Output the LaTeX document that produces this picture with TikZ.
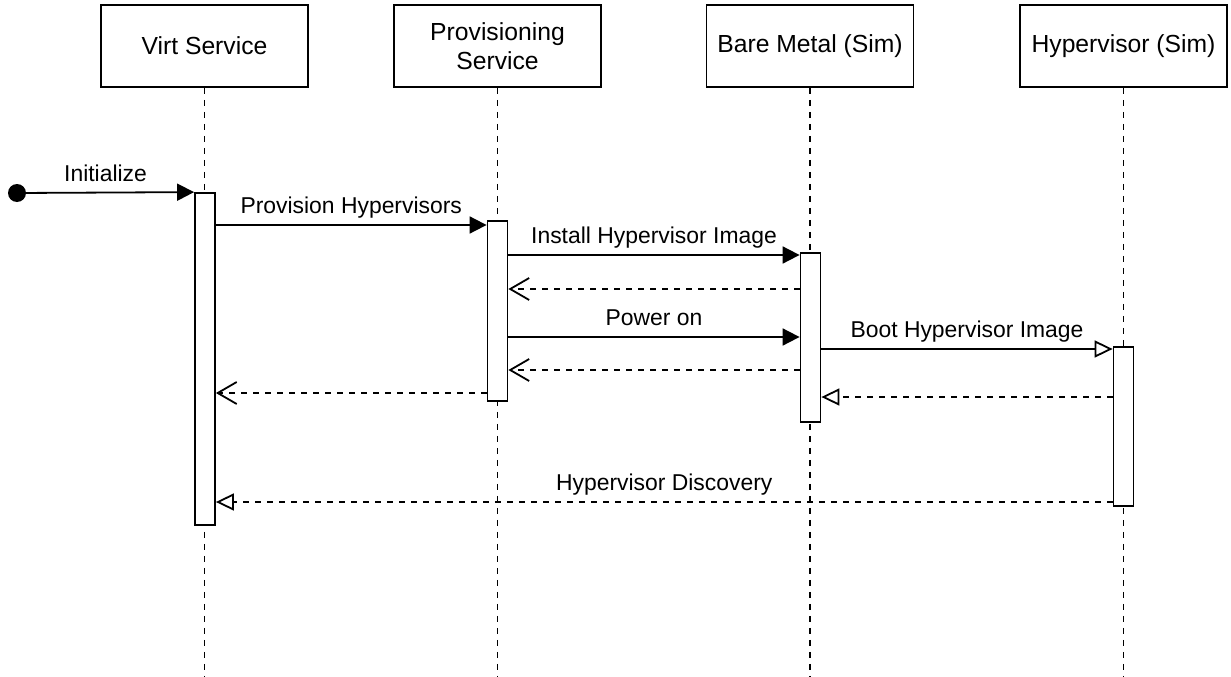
\documentclass[tikz,border=0pt]{standalone}
\usepackage{fontspec}
\setmainfont{Liberation Sans}
\usetikzlibrary{arrows.meta}

\begin{document}
\begin{tikzpicture}[x=1pt, y=-1pt, line width=1.8pt,
    font=\fontsize{22.9}{27}\selectfont,
    head/.style={draw, minimum width=207pt, minimum height=82pt, align=center, inner sep=0pt,
        font=\fontsize{24.7}{28.5}\selectfont},
    act/.style={draw, fill=white, minimum width=20pt, inner sep=0pt},
    life/.style={dash pattern=on 6pt off 6pt},
    call/.style={-{Triangle[length=17pt,width=17pt]}},
    reply/.style={life, -{Straight Barb[length=19pt,width=22pt]}},
    async/.style={-{Triangle[open,length=18pt,width=17pt]}},
    lbl/.style={anchor=base, yshift=11.5pt}]
    \useasboundingbox (0,0) rectangle (1231,677);

    \node[head] (virt) at (204.5,46) {Virt Service};
    \node[head] (prov) at (497.5,46) {Provisioning\\Service};
    \node[head] (bare) at (810,46) {Bare Metal (Sim)};
    \node[head] (hyper) at (1123.5,46) {Hypervisor (Sim)};

    \draw[life] (virt.south) -- (virt.south |- 0,677);
    \draw[life] (prov.south) -- (prov.south |- 0,677);
    \draw[life] (bare.south) -- (bare.south |- 0,677);
    \draw[life] (hyper.south) -- (hyper.south |- 0,677);

    \node[act, minimum height=332pt] (actV) at (205,359) {};
    \node[act, minimum height=180pt] (actP) at (497.5,311) {};
    \node[act, minimum height=169pt] (actB) at (810.5,337.5) {};
    \node[act, minimum height=159pt] (actH) at (1123.5,426.5) {};

    \coordinate (start) at (17,193);
    \fill (start) circle (9pt);
    \draw[call] (start) -- (actV.north west) node[lbl, midway] {Initialize};
    \draw[call] (actV.east |- 0,225) -- (actP.west |- 0,225) node[lbl, midway] {Provision Hypervisors};
    \draw[call] (actP.east |- 0,255) -- (actB.west |- 0,255) node[lbl, midway] {Install Hypervisor Image};
    \draw[reply] (actB.west |- 0,289) -- (actP.east |- 0,289);
    \draw[call] (actP.east |- 0,337) -- (actB.west |- 0,337) node[lbl, midway] {Power on};
    \draw[async] (actB.east |- 0,349) -- (actH.west |- 0,349) node[lbl, midway] {Boot Hypervisor Image};
    \draw[reply] (actB.west |- 0,370) -- (actP.east |- 0,370);
    \draw[reply] (actP.west |- 0,393) -- (actV.east |- 0,393);
    \draw[async, life] (actH.west |- 0,397) -- (actB.east |- 0,397);
    \draw[async, life] (actH.west |- 0,502) -- (actV.east |- 0,502) node[lbl, midway] {Hypervisor Discovery};
\end{tikzpicture}
\end{document}
